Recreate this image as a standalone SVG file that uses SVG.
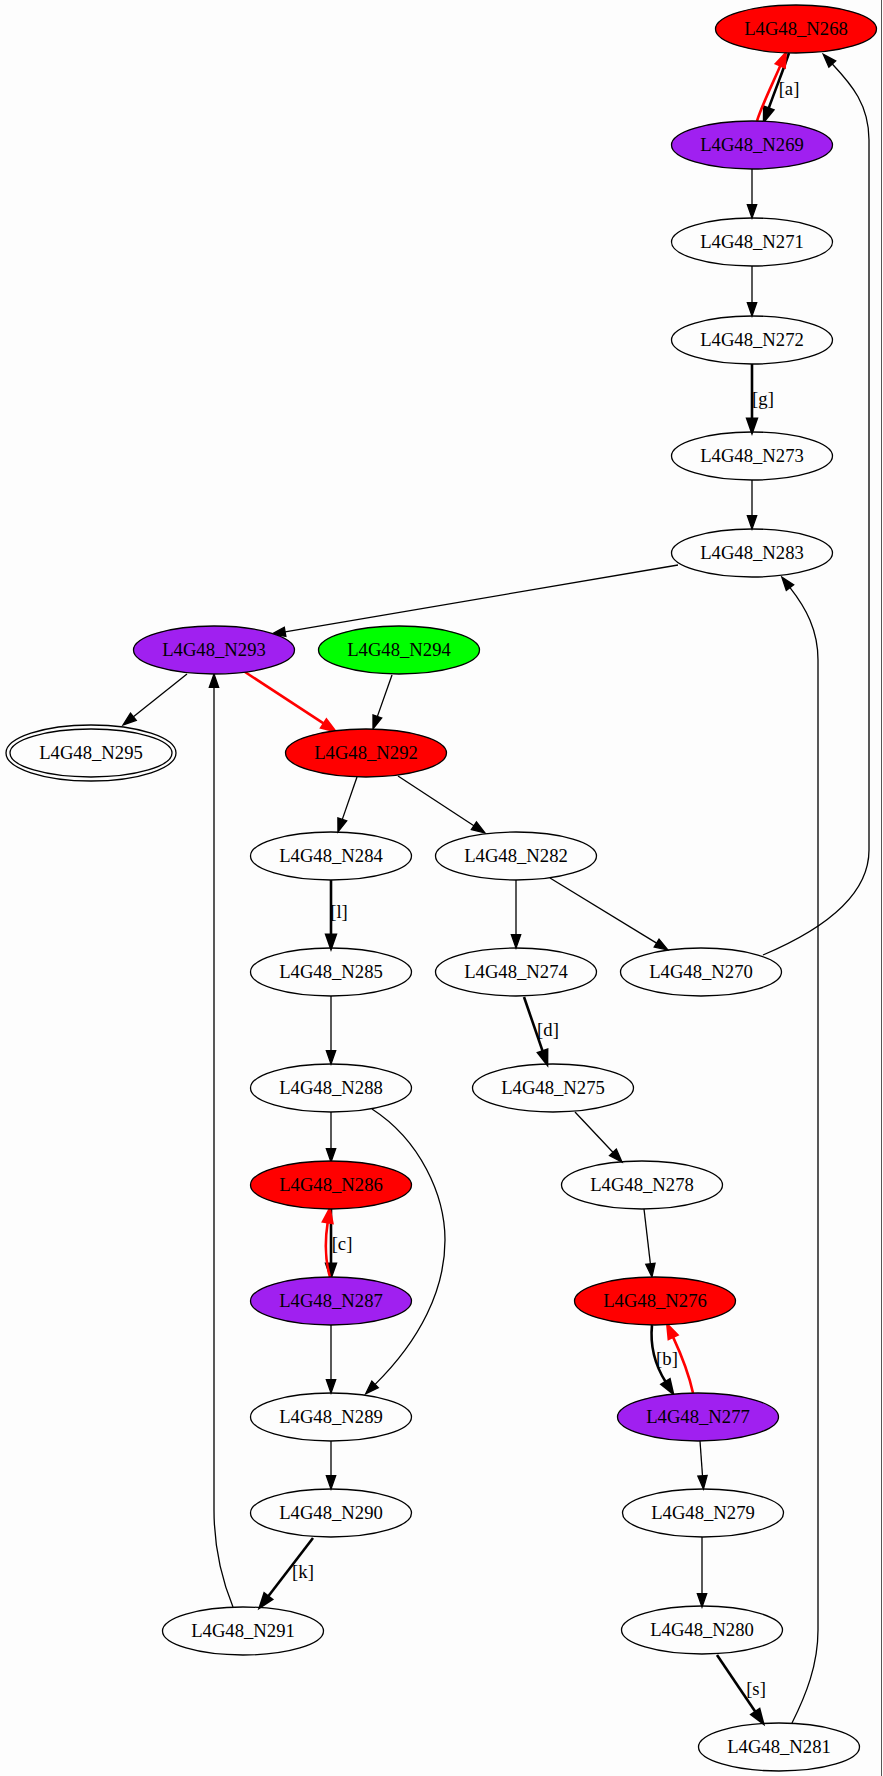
<svg xmlns="http://www.w3.org/2000/svg" width="883" height="1776" viewBox="0 0 883 1776">
  <defs>
    <style>
      .bg { fill: #fdfdfd; }
      .node ellipse { stroke: #000; stroke-width: 1.3; fill: none; }
      .node text, .lbl { font-family: "Liberation Serif", "Times New Roman", serif; font-size: 18.67px; fill: #000; text-anchor: middle; }
      .red ellipse { fill: #ff0000; }
      .purple ellipse { fill: #a020f0; }
      .green ellipse { fill: #00ff00; }
      .e { fill: none; stroke: #000; stroke-width: 1.3; marker-end: url(#ah); }
      .eb { fill: none; stroke: #000; stroke-width: 2.6; marker-end: url(#ahb); }
      .er { fill: none; stroke: #ff0000; stroke-width: 2.6; marker-end: url(#ahr); }
    </style>
    <marker id="ah" markerUnits="userSpaceOnUse" orient="auto" refX="0" refY="0" markerWidth="20" markerHeight="20" overflow="visible">
      <path d="M0,-4.67 L13.3,0 L0,4.67 Z" fill="#000" stroke="#000" stroke-width="1.3"/>
    </marker>
    <marker id="ahb" markerUnits="userSpaceOnUse" orient="auto" refX="0" refY="0" markerWidth="20" markerHeight="20" overflow="visible">
      <path d="M0,-4.67 L13.3,0 L0,4.67 Z" fill="#000" stroke="#000" stroke-width="2.6"/>
    </marker>
    <marker id="ahr" markerUnits="userSpaceOnUse" orient="auto" refX="0" refY="0" markerWidth="20" markerHeight="20" overflow="visible">
      <path d="M0,-4.67 L13.3,0 L0,4.67 Z" fill="#ff0000" stroke="#ff0000" stroke-width="2.6"/>
    </marker>
  </defs>

  <rect class="bg" x="0" y="0" width="883" height="1776"/>
  <line x1="881.5" y1="0" x2="881.5" y2="1776" stroke="#555" stroke-width="1"/>

  <!-- connectors -->
  <g id="edges">
    <path class="eb" d="M789,53 C784,68 776,88 768.6,108.5"/>
    <path class="er" d="M757,121 C762,105 772,85 780.4,65.5"/>
    <path class="e" d="M752,169 L752,204.7"/>
    <path class="e" d="M752,266 L752,302.7"/>
    <path class="eb" d="M752,364 L752,418.7"/>
    <path class="e" d="M752,480 L752,515.7"/>
    <path class="e" d="M678,565 L285.1,631.8"/>
    <path class="e" d="M792,1723 C806,1695 818,1665 818,1630 L818,660 C818,630 806,608 790,587.6"/>
    <path class="e" d="M187,674 L133.4,716.7"/>
    <path class="er" d="M245,672 L323.9,723.7"/>
    <path class="e" d="M392,675 L377.4,716.4"/>
    <path class="e" d="M233,1607 C222,1580 214,1550 214,1510 L214,687.3"/>
    <path class="e" d="M357,777 L342.3,819.4"/>
    <path class="e" d="M398,776 L473.9,825.7"/>
    <path class="eb" d="M331,880 L331,934.7"/>
    <path class="e" d="M331,996 L331,1050.7"/>
    <path class="e" d="M516,880 L516,934.7"/>
    <path class="e" d="M550,878 L656.6,943.1"/>
    <path class="e" d="M763,955 C815,933 869,900 869,850 L869,140 C869,105 852,85 832.3,64"/>
    <path class="eb" d="M524,997 L542.7,1051.4"/>
    <path class="e" d="M575,1112 L612.9,1152.3"/>
    <path class="e" d="M644,1209 L650.4,1263.8"/>
    <path class="eb" d="M652,1325 C650,1345 655,1365 665.7,1382"/>
    <path class="er" d="M693,1393 C688,1370 680,1352 673,1336.9"/>
    <path class="e" d="M700,1441 L702.5,1475.7"/>
    <path class="e" d="M702,1537 L702,1593.7"/>
    <path class="eb" d="M717,1655 L755.5,1712"/>
    <path class="e" d="M331,1112 L331,1148.7"/>
    <path class="e" d="M372,1109 C420,1140 445,1195 445,1240 C445,1290 420,1340 375.1,1384.4"/>
    <path class="eb" d="M331,1209 L331,1263.7"/>
    <path class="er" d="M330,1277 C325,1260 325,1240 327.7,1222.3"/>
    <path class="e" d="M331,1325 L331,1379.7"/>
    <path class="e" d="M331,1441 L331,1475.7"/>
    <path class="eb" d="M313,1538 L268.1,1596.5"/>
    <text class="lbl" x="789" y="95">[a]</text>
    <text class="lbl" x="763" y="405">[g]</text>
    <text class="lbl" x="339" y="918">[l]</text>
    <text class="lbl" x="548" y="1036">[d]</text>
    <text class="lbl" x="342" y="1250">[c]</text>
    <text class="lbl" x="667" y="1365">[b]</text>
    <text class="lbl" x="303" y="1578">[k]</text>
    <text class="lbl" x="756" y="1695">[s]</text>
  </g>

  <!-- nodes -->
  <g id="N268" class="node red"><ellipse cx="796" cy="29" rx="80.5" ry="24"/><text x="796" y="35">L4G48_N268</text></g>
  <g id="N269" class="node purple"><ellipse cx="752" cy="145" rx="80.5" ry="24"/><text x="752" y="151">L4G48_N269</text></g>
  <g id="N271" class="node"><ellipse cx="752" cy="242" rx="80.5" ry="24"/><text x="752" y="248">L4G48_N271</text></g>
  <g id="N272" class="node"><ellipse cx="752" cy="340" rx="80.5" ry="24"/><text x="752" y="346">L4G48_N272</text></g>
  <g id="N273" class="node"><ellipse cx="752" cy="456" rx="80.5" ry="24"/><text x="752" y="462">L4G48_N273</text></g>
  <g id="N283" class="node"><ellipse cx="752" cy="553" rx="80.5" ry="24"/><text x="752" y="559">L4G48_N283</text></g>
  <g id="N293" class="node purple"><ellipse cx="214" cy="650" rx="80.5" ry="24"/><text x="214" y="656">L4G48_N293</text></g>
  <g id="N294" class="node green"><ellipse cx="399" cy="650" rx="80.5" ry="24"/><text x="399" y="656">L4G48_N294</text></g>
  <g id="N295" class="node"><ellipse cx="91" cy="753" rx="81" ry="24"/><ellipse cx="91" cy="753" rx="85" ry="28"/><text x="91" y="759">L4G48_N295</text></g>
  <g id="N292" class="node red"><ellipse cx="366" cy="753" rx="80.5" ry="24"/><text x="366" y="759">L4G48_N292</text></g>
  <g id="N284" class="node"><ellipse cx="331" cy="856" rx="80.5" ry="24"/><text x="331" y="862">L4G48_N284</text></g>
  <g id="N282" class="node"><ellipse cx="516" cy="856" rx="80.5" ry="24"/><text x="516" y="862">L4G48_N282</text></g>
  <g id="N285" class="node"><ellipse cx="331" cy="972" rx="80.5" ry="24"/><text x="331" y="978">L4G48_N285</text></g>
  <g id="N274" class="node"><ellipse cx="516" cy="972" rx="80.5" ry="24"/><text x="516" y="978">L4G48_N274</text></g>
  <g id="N270" class="node"><ellipse cx="701" cy="972" rx="80.5" ry="24"/><text x="701" y="978">L4G48_N270</text></g>
  <g id="N288" class="node"><ellipse cx="331" cy="1088" rx="80.5" ry="24"/><text x="331" y="1094">L4G48_N288</text></g>
  <g id="N275" class="node"><ellipse cx="553" cy="1088" rx="80.5" ry="24"/><text x="553" y="1094">L4G48_N275</text></g>
  <g id="N286" class="node red"><ellipse cx="331" cy="1185" rx="80.5" ry="24"/><text x="331" y="1191">L4G48_N286</text></g>
  <g id="N278" class="node"><ellipse cx="642" cy="1185" rx="80.5" ry="24"/><text x="642" y="1191">L4G48_N278</text></g>
  <g id="N287" class="node purple"><ellipse cx="331" cy="1301" rx="80.5" ry="24"/><text x="331" y="1307">L4G48_N287</text></g>
  <g id="N276" class="node red"><ellipse cx="655" cy="1301" rx="80.5" ry="24"/><text x="655" y="1307">L4G48_N276</text></g>
  <g id="N289" class="node"><ellipse cx="331" cy="1417" rx="80.5" ry="24"/><text x="331" y="1423">L4G48_N289</text></g>
  <g id="N277" class="node purple"><ellipse cx="698" cy="1417" rx="80.5" ry="24"/><text x="698" y="1423">L4G48_N277</text></g>
  <g id="N290" class="node"><ellipse cx="331" cy="1513" rx="80.5" ry="24"/><text x="331" y="1519">L4G48_N290</text></g>
  <g id="N279" class="node"><ellipse cx="703" cy="1513" rx="80.5" ry="24"/><text x="703" y="1519">L4G48_N279</text></g>
  <g id="N291" class="node"><ellipse cx="243" cy="1631" rx="80.5" ry="24"/><text x="243" y="1637">L4G48_N291</text></g>
  <g id="N280" class="node"><ellipse cx="702" cy="1630" rx="80.5" ry="24"/><text x="702" y="1636">L4G48_N280</text></g>
  <g id="N281" class="node"><ellipse cx="779" cy="1747" rx="80.5" ry="24"/><text x="779" y="1753">L4G48_N281</text></g>
</svg>
